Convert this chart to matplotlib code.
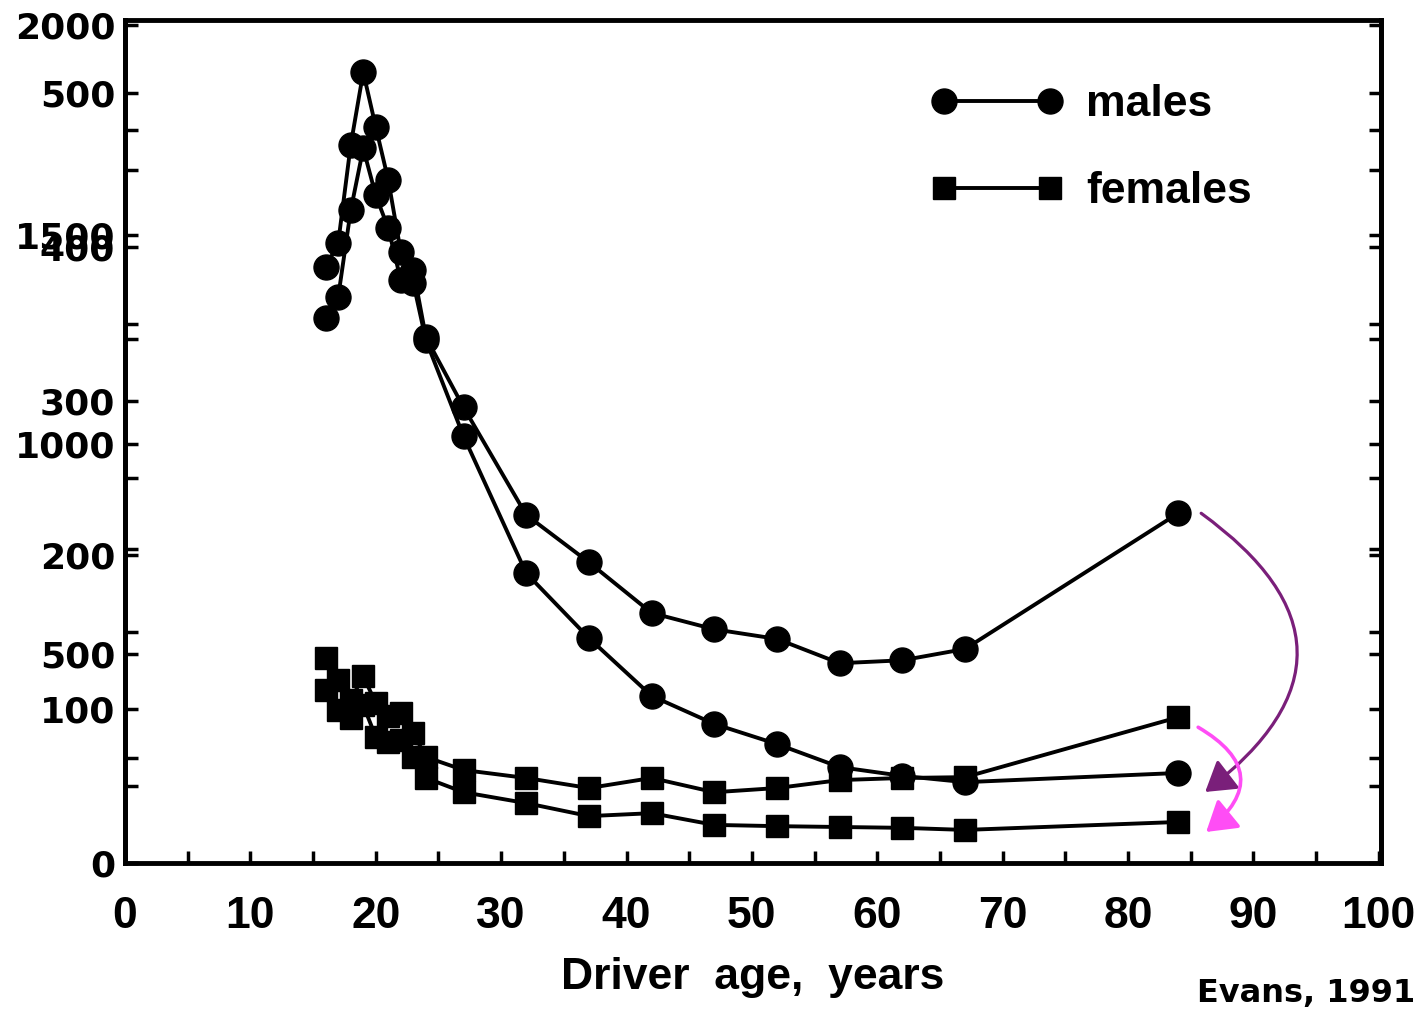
import numpy as np
import matplotlib.pyplot as plt
from matplotlib.ticker import MultipleLocator
from matplotlib.transforms import ScaledTranslation

plt.rcParams['font.family'] = 'Liberation Sans'
plt.rcParams['font.weight'] = 'bold'

# driver ages of the points
ages = [16, 17, 18, 19, 20, 21, 22, 23, 24, 27, 32, 37, 42, 47, 52, 57, 62, 67, 84]
# two curves per sex, values read on the left 0-2000 scale
males_a = [1422, 1480, 1714, 1888, 1757, 1630, 1458, 1415, 1255, 1088, 831, 718,
           597, 558, 535, 477, 484, 511, 835]
males_b = [1301, 1351, 1558, 1706, 1594, 1515, 1391, 1384, 1248, 1019, 692, 537,
           399, 332, 284, 229, 208, 193, 215]
females_a = [489, 437, 389, 446, 382, 351, 358, 310, 253, 222, 203, 179,
             203, 169, 179, 198, 203, 205, 348]
females_b = [413, 365, 346, 377, 301, 289, 294, 253, 203, 169, 143, 112,
             119, 91, 88, 86, 84, 79, 98]

# second scale that is printed on top of the first one
scale = 3.675
left_ticks = [0, 500, 1000, 1500, 2000]
right_ticks = [100, 200, 300, 400, 500]
x_ticks = [0, 10, 20, 30, 40, 50, 60, 70, 80, 90, 100]

fig = plt.figure(figsize=(14.24, 10.14), dpi=100)
ax = fig.add_axes([0.0878, 0.1489, 0.8822, 0.8311])

ax.plot(ages, males_a, 'o-', color='black', lw=2.8, markersize=18, label='males')
ax.plot(ages, males_b, 'o-', color='black', lw=2.8, markersize=18)
ax.plot(ages, females_a, 's-', color='black', lw=2.8, markersize=16, label='females')
ax.plot(ages, females_b, 's-', color='black', lw=2.8, markersize=16)

ax.set_xlim(0, 100.2)
ax.set_ylim(0, 2012)
for s in ax.spines.values():
    s.set_linewidth(3.5)

ax.set_xticks(x_ticks, [str(v) for v in x_ticks], fontsize=32)
ax.xaxis.set_minor_locator(MultipleLocator(5))
ax.tick_params(axis='x', which='both', direction='in', length=9, width=2.5, pad=24)

ax.set_yticks(left_ticks, [str(v) for v in left_ticks], fontsize=26,
              fontfamily='DejaVu Sans', fontweight='bold')
ax.yaxis.set_minor_locator(MultipleLocator(250))
ax.tick_params(axis='y', which='both', direction='in', length=9, width=2.5,
               pad=7, right=True)

sec = ax.secondary_yaxis('left', functions=(lambda v: v / scale, lambda v: v * scale))
sec.set_ticks(right_ticks, labels=[str(v) for v in right_ticks], fontsize=26,
              fontfamily='DejaVu Sans', fontweight='bold')
sec.yaxis.set_minor_locator(MultipleLocator(50))
sec.tick_params(which='both', direction='in', length=9, width=2.5, pad=7)
sec.spines['left'].set_linewidth(3.5)

sec_r = ax.secondary_yaxis('right', functions=(lambda v: v / scale, lambda v: v * scale))
sec_r.set_ticks(right_ticks, labels=[])
sec_r.yaxis.set_minor_locator(MultipleLocator(50))
sec_r.tick_params(which='both', direction='in', length=9, width=2.5)
sec_r.spines['right'].set_linewidth(3.5)

ax.set_xlabel('Driver  age,  years', fontsize=32, fontweight='bold', labelpad=14)

ax.legend(loc='upper left', bbox_to_anchor=(0.641, 0.924), frameon=False,
          numpoints=2, handlelength=3.0, handletextpad=0.5, labelspacing=1.03,
          borderpad=0, borderaxespad=0, prop={'size': 32, 'weight': 'bold'})

# arrows pointing from the upper curves to the lower ones at age 84
def shifted(dx, dy):
    return ax.transData + ScaledTranslation(dx / 100, -dy / 100, fig.dpi_scale_trans)

ax.annotate('', xy=(ages[-1], males_b[-1]), xycoords=shifted(27, 19),
            xytext=(ages[-1], males_a[-1]), textcoords=shifted(23, 0),
            arrowprops=dict(arrowstyle='-|>,head_length=0.4,head_width=0.25',
                            mutation_scale=45, color='#7a1f7a', lw=2.3,
                            shrinkA=0, shrinkB=0, connectionstyle='arc3,rad=-0.67'))
ax.annotate('', xy=(ages[-1], females_b[-1]), xycoords=shifted(28, 10),
            xytext=(ages[-1], females_a[-1]), textcoords=shifted(20, 10),
            arrowprops=dict(arrowstyle='-|>,head_length=0.4,head_width=0.25',
                            mutation_scale=45, color='#ff4df5', lw=2.6,
                            shrinkA=0, shrinkB=0, connectionstyle='arc3,rad=-0.72'))

fig.text(0.9937, 0.0207, 'Evans, 1991', ha='right', va='center', fontsize=23,
         fontfamily='DejaVu Sans', fontweight='bold')

fig.savefig('out.png', dpi=100)
